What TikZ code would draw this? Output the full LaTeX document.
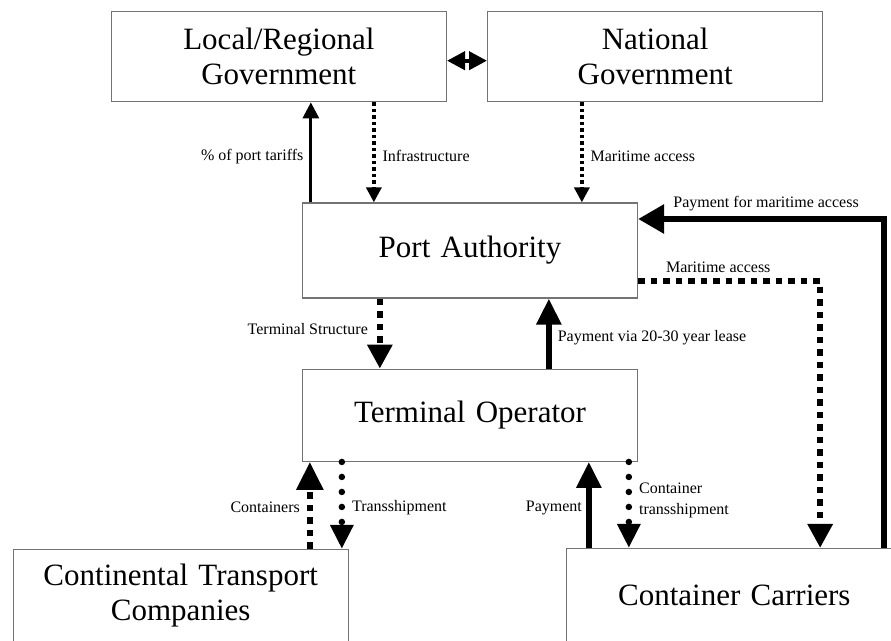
\documentclass[tikz,border=0pt]{standalone}
\usepackage{fontspec}
\setmainfont{Liberation Serif}
\usetikzlibrary{positioning,arrows.meta}
\tikzset{entity/.style={rectangle, draw=black!55, line width=1.3pt,
    minimum width=335pt, text width=320pt, align=center,
    font=\fontsize{31}{35}\selectfont},
  flowlabel/.style={font=\fontsize{16}{21}\selectfont, inner sep=1pt},
  money/.style={-{Triangle[length=26pt,width=24pt]}, line width=6pt},
  thinmoney/.style={-{Triangle[length=16pt,width=16pt]}, line width=3pt},
  service/.style={-{Triangle[length=15pt,width=15pt]}, line width=3.5pt,
    dash pattern=on 3.5pt off 3pt},
  bigservice/.style={-{Triangle[length=24pt,width=24pt]}, line width=6pt,
    dash pattern=on 6.5pt off 6pt},
  dotflow/.style={-{Triangle[length=24pt,width=22pt]}, line width=6.5pt,
    line cap=round, dash pattern=on 0pt off 15pt},
  twoway/.style={{Triangle[length=18pt,width=18pt]}-{Triangle[length=18pt,width=18pt]},
    line width=4pt}
}

\begin{document}
\begin{tikzpicture}

   \useasboundingbox (-470pt,250.5pt) rectangle (421pt,-389.5pt);
   \clip (-470pt,250.5pt) rectangle (421pt,-389.5pt);

   %Port authority in the middle
   \node (PA) [entity, minimum height=95pt] {Port Authority};

   %Terminal operator below it
   \node (TO) [entity, minimum height=92pt, below=70pt of PA] {Terminal Operator};

   %Governments on top
   \node (Local) [entity, minimum height=90pt, above left=100pt and 23pt of PA.north]
   {Local/Regional\\Government};
   \node (National) [entity, minimum height=90pt, right=40pt of Local]
   {National\\Government};

   %Transport companies and carriers, use anchor
   \node (CTC) [entity, minimum height=92pt, below=87pt of TO.south west,
   anchor=north east, xshift=47pt]
   {Continental Transport\\Companies};
   \node (CC) [entity, minimum height=93pt, below=86pt of TO.south east,
   anchor=north west, xshift=-72pt]
   {Container Carriers};

   \draw[twoway] ([yshift=-4pt]Local.east) -- ([yshift=-4pt]National.west);

   %Governments and port authority
   \coordinate (tariffs) at ([xshift=9pt]PA.north west);
   \coordinate (infra) at ([xshift=72pt]PA.north west);
   \coordinate (access) at ([xshift=280pt]PA.north west);
   \draw[thinmoney] (tariffs) -- node[flowlabel, pos=.46, left=5pt] {\% of port tariffs}
   (tariffs |- Local.south);
   \draw[service] (infra |- Local.south) -- node[flowlabel, pos=.54, right=6pt] {Infrastructure}
   (infra);
   \draw[service] (access |- National.south) -- node[flowlabel, pos=.54, right=6pt] {Maritime access}
   (access);

   %Carriers and port authority
   \coordinate (carrierpay) at ([xshift=318pt]CC.north west);
   \coordinate (seaaccess) at ([xshift=254pt]CC.north west);
   \draw[money, -{Triangle[length=26pt,width=28pt]}] (carrierpay) |-
   node[flowlabel, pos=.74, above=4pt] {Payment for maritime access}
   ([yshift=31.5pt]PA.east);
   \draw[bigservice] ([yshift=-30.5pt]PA.east) -|
   node[flowlabel, pos=.22, above=4pt] {Maritime access} (seaaccess);

   %Port authority and terminal operator
   \coordinate (structure) at ([xshift=78pt]PA.south west);
   \coordinate (lease) at ([xshift=247pt]PA.south west);
   \draw[bigservice] (structure) -- node[flowlabel, pos=.44, left=8pt] {Terminal Structure}
   (structure |- TO.north);
   \draw[money] (lease |- TO.north) -- node[flowlabel, pos=.44, right=5pt] {Payment via 20-30 year lease}
   (lease);

   %Terminal operator and its clients
   \coordinate (containers) at ([xshift=8pt]TO.south west);
   \coordinate (transship) at ([xshift=40pt]TO.south west);
   \coordinate (payment) at ([xshift=287pt]TO.south west);
   \coordinate (boxship) at ([xshift=327pt]TO.south west);
   \draw[bigservice, -{Triangle[length=28pt,width=26pt]}] (containers |- CTC.north) --
   node[flowlabel, pos=.48, left=6pt] {Containers} (containers);
   \draw[dotflow] (transship) -- node[flowlabel, pos=.52, right=6pt] {Transshipment}
   (transship |- CTC.north);
   \draw[money] (payment |- CC.north) -- node[flowlabel, pos=.47, left=3pt] {Payment}
   (payment);
   \draw[dotflow] (boxship) -- node[flowlabel, pos=.45, right=6pt, align=left]
   {Container\\transshipment} (boxship |- CC.north);

\end{tikzpicture}
\end{document}
